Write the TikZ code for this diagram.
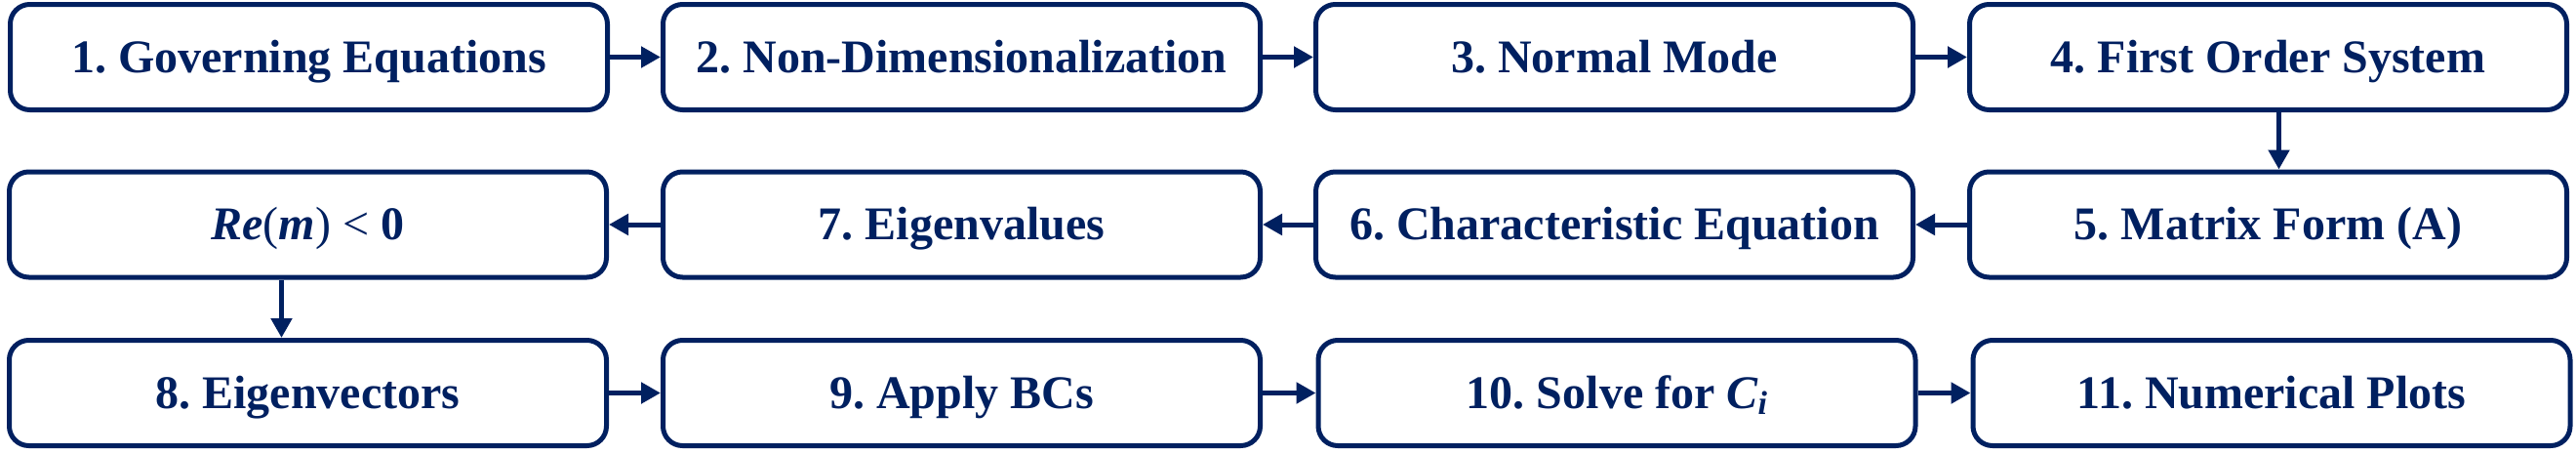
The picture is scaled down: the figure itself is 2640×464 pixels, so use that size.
\documentclass[tikz,border=0pt]{standalone}
\usepackage{fontspec}
\setmainfont{Liberation Serif}
\usetikzlibrary{arrows.meta}
\definecolor{navy}{RGB}{0,32,96}
\frenchspacing
\begin{document}
\begin{tikzpicture}[x=1pt,y=-1pt,
  box/.style={draw=navy, line width=5pt, rounded corners=20pt,
    minimum width=612pt, minimum height=108pt, inner sep=0pt,
    text height=31pt, text depth=0pt,
    text=navy, font=\fontsize{48}{56}\selectfont\bfseries},
  arr/.style={draw=navy, line width=5pt, -{Triangle[length=20pt,width=21pt]}}]
\useasboundingbox (0,0) rectangle (2640,464);
\node[box] (n1) at (316.5,58.5) {1. Governing Equations};
\node[box] (n2) at (985.5,58.5) {2. Non-Dimensionalization};
\node[box] (n3) at (1654.5,58.5) {3. Normal Mode};
\node[box] (n4) at (2324.5,58.5) {4. First Order System};
\node[box] (n5) at (2324.5,230) {5. Matrix Form (A)};
\node[box] (n6) at (1654.5,230) {6. Characteristic Equation};
\node[box] (n7) at (985.5,230) {7. Eigenvalues};
\node[box] (re) at (315.5,230) {{\itshape Re}{\mdseries(}{\itshape m}{\mdseries)} {\mdseries<} 0};
\node[box] (n8) at (315.5,402.5) {8. Eigenvectors};
\node[box] (n9) at (985.5,402.5) {9. Apply BCs};
\node[box] (n10) at (1657,402.5) {10. Solve for {\itshape C}\raisebox{-0.3ex}{\fontsize{34}{34}\selectfont\itshape i}};
\node[box] (n11) at (2328,402.5) {11. Numerical Plots};
\draw[arr] (n1) -- (n2);
\draw[arr] (n2) -- (n3);
\draw[arr] (n3) -- (n4);
\draw[arr] ([xshift=11pt]n4.south) -- ([xshift=11pt]n5.north);
\draw[arr] (n5) -- (n6);
\draw[arr] (n6) -- (n7);
\draw[arr] (n7) -- (re);
\draw[arr] ([xshift=-27pt]re.south) -- ([xshift=-27pt]n8.north);
\draw[arr] (n8) -- (n9);
\draw[arr] (n9) -- (n10);
\draw[arr] (n10) -- (n11);
\end{tikzpicture}
\end{document}
